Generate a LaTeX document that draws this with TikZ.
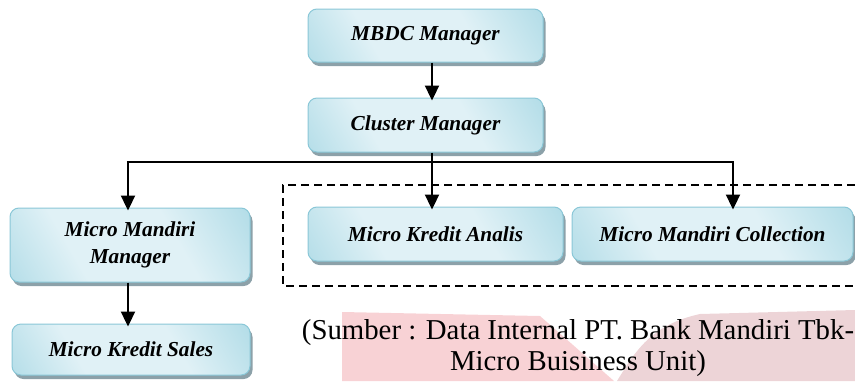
\documentclass[tikz,border=0pt]{standalone}
\usepackage{fontspec}
\setmainfont{Liberation Serif}
\usetikzlibrary{shadows,arrows.meta}
\definecolor{boxdark}{HTML}{92CEDD}
\definecolor{boxlight}{HTML}{E0F1F6}
\definecolor{boxedge}{HTML}{8AC7D7}
\definecolor{shadowc}{HTML}{8CA1A9}
\definecolor{wmA}{HTML}{F8D2D5}
\definecolor{wmB}{HTML}{EDD4D7}
\pgfdeclarehorizontalshading{boxshade}{100bp}{color(0bp)=(boxdark); color(35bp)=(boxlight); color(62bp)=(boxlight); color(100bp)=(boxdark)}
\tikzset{
  orgbox/.style={rectangle, rounded corners=9pt, draw=boxedge, line width=1pt,
    shading=boxshade, shading angle=30,
    drop shadow={shadow xshift=2.5pt, shadow yshift=-4pt, fill=shadowc, opacity=1},
    inner sep=0pt, align=center,
    font=\fontsize{21.3}{27}\selectfont\bfseries\itshape},
  arr/.style={line width=2.3pt, -{Triangle[length=15pt,width=14pt]}, shorten >=-3pt},
  link/.style={line width=2.3pt},
  grouprect/.style={line width=1.5pt, dash pattern=on 8pt off 5pt},
  caption/.style={align=center, inner sep=0pt, font=\fontsize{28.8}{31}\selectfont}
}
\begin{document}
\begin{tikzpicture}[x=1pt,y=-1pt]
\useasboundingbox (0,0) rectangle (855,381);
% watermark
\fill[wmA] (342,312) -- (540,316) -- (614,381) -- (342,381) -- cycle;
\fill[wmB] (617,381) .. controls (635,352) and (650,325) .. (700,314) -- (855,310) -- (855,381) -- cycle;

\node[orgbox, minimum width=235pt, minimum height=53pt] (mbdc) at (425.5,35.5) {MBDC Manager};
\node[orgbox, minimum width=235pt, minimum height=54pt] (cluster) at (425.5,125) {Cluster Manager};
\node[orgbox, minimum width=240pt, minimum height=74pt] (mmm) at (130,245) {Micro Mandiri\\Manager};
\node[orgbox, minimum width=238pt, minimum height=51pt] (sales) at (131,349.5) {Micro Kredit Sales};
\node[orgbox, minimum width=255pt, minimum height=54pt] (analis) at (435.5,234) {Micro Kredit Analis};
\node[orgbox, minimum width=281pt, minimum height=54pt] (coll) at (712.5,234) {Micro Mandiri Collection};

\coordinate (jc) at (432,162);
\coordinate (jl) at (128,162);
\coordinate (jr) at (733,162);

\draw[grouprect] (855,185) -- (283,185) -- (283,286) -- (855,286);

\draw[arr] (mbdc.south -| jc) -- (cluster.north -| jc);
\draw[arr] (cluster.south -| jc) -- (analis.north -| jc);
\draw[link] ([xshift=-1.15pt]jl) -- ([xshift=1.15pt]jr);
\draw[arr] (jl) -- (mmm.north -| jl);
\draw[arr] (jr) -- (coll.north -| jr);
\draw[arr] (mmm.south -| jl) -- (sales.north -| jl);

\node[caption] (src) at (578,348) {(Sumber : Data Internal PT. Bank Mandiri Tbk-\\Micro Buisiness Unit)};
\end{tikzpicture}
\end{document}
